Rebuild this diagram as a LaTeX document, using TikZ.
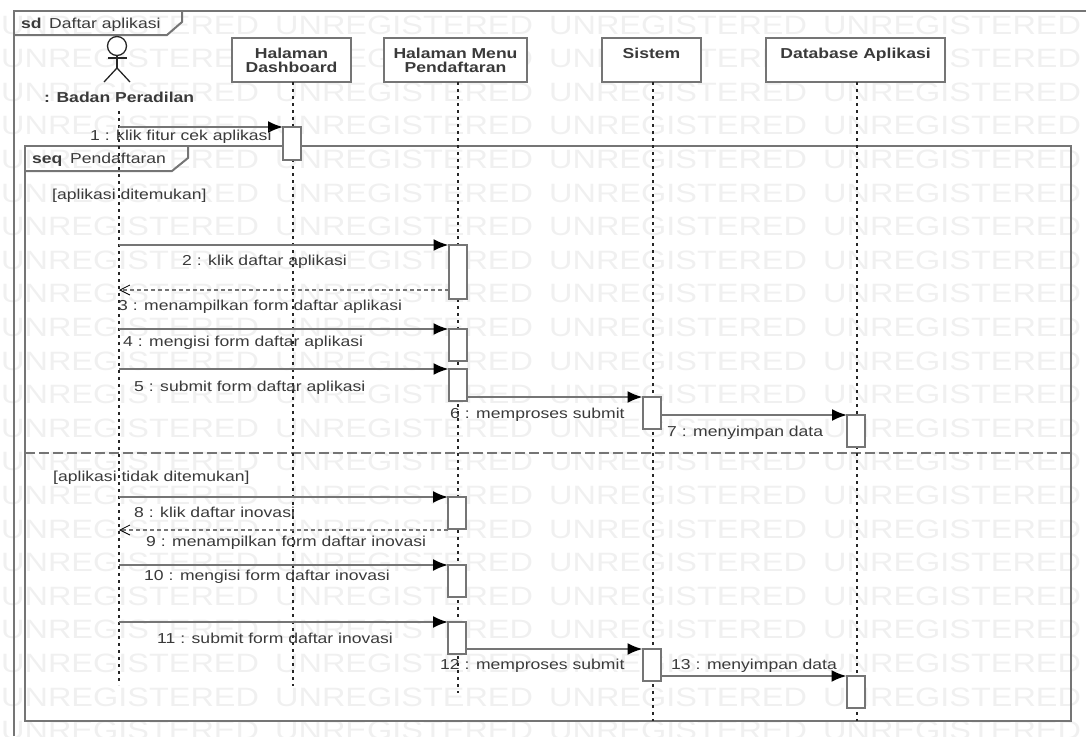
\documentclass[tikz,border=0pt]{standalone}
\usepackage{fontspec}
\setmainfont[FakeStretch=1.22]{Liberation Sans}
\usetikzlibrary{arrows.meta}
\definecolor{linegray}{HTML}{757575}
\definecolor{textgray}{HTML}{3A3A3A}
\definecolor{wmgray}{HTML}{F0F0F0}
\begin{document}
\begin{tikzpicture}[x=1pt, y=-1pt,
        wm/.style={anchor=west, inner sep=0, text=wmgray, font=\fontsize{26.6}{30}\selectfont},
        lbl/.style={anchor=base west, inner sep=0, text=textgray, font=\fontsize{14.4}{15}\selectfont},
        hd/.style={draw=linegray, line width=2pt, fill=white, inner sep=0, outer sep=0, minimum height=44pt,
            align=center, text=textgray, font=\fontsize{14.4}{14}\selectfont\bfseries},
        act/.style={draw=linegray, line width=2pt, fill=white, inner sep=0, outer sep=0, minimum width=18pt, anchor=north},
        frm/.style={draw=linegray, line width=2pt},
        life/.style={draw=black!85, line width=1.3pt, dash pattern=on 3pt off 4pt},
        msg/.style={draw=linegray, line width=2pt, -{Latex[black, length=15pt, width=12pt]}},
        ret/.style={draw=linegray, line width=1.3pt, dash pattern=on 4pt off 3pt, -{Straight Barb[black, length=10pt, width=10pt, line width=.8pt]}}]
    \useasboundingbox (0,0) rectangle (1086,736);

    \foreach \r in {0,...,21}
        \foreach \c in {0,...,3}
            \node[wm] (wm\r-\c) at ({1+274*\c},{25+33.6*\r}) {UNREGISTERED};

    % frames
    \draw[frm] (14,736) -- (14,11) -- (1086,11);
    \draw[frm] (14,35) -- (167,35) -- (182,22) -- (182,11);
    \draw[frm] (25,146) rectangle (1071,721);
    \draw[frm] (25,171) -- (172,171) -- (188,158) -- (188,146);
    \draw[frm, dash pattern=on 10pt off 4pt] (25,453) -- (1071,453);
    \node[lbl] (sd) at (21,28) {\textbf{sd}};
    \node[lbl] (sdname) at (49,28) {Daftar aplikasi};
    \node[lbl] (seq) at (32,163) {\textbf{seq}};
    \node[lbl] (seqname) at (70,163) {Pendaftaran};
    \node[lbl] (g1) at (52,199) {[aplikasi ditemukan]};
    \node[lbl] (g2) at (53,481) {[aplikasi tidak ditemukan]};

    % lifelines
    \coordinate (s0) at (119,111);
    \coordinate (e0) at (119,685);
    \coordinate (e1) at (293,686);
    \coordinate (e2) at (458,693);
    \coordinate (e3) at (653,721);
    \coordinate (e4) at (857,721);

    \node[hd, minimum width=119pt] (dash) at (291.5,60) {Halaman\\Dashboard};
    \node[hd, minimum width=143pt] (menu) at (455.5,60) {Halaman Menu\\Pendaftaran};
    \node[hd, minimum width=99pt] (sistem) at (651.5,60) {Sistem\\~};
    \node[hd, minimum width=179pt] (db) at (855.5,60) {Database Aplikasi\\~};

    \draw[life] (s0) -- (e0);
    \draw[life] (dash.south -| e1) -- (e1);
    \draw[life] (menu.south -| e2) -- (e2);
    \draw[life] (sistem.south -| e3) -- (e3);
    \draw[life] (db.south -| e4) -- (e4);

    % actor
    \node[circle, draw=black!85, line width=1.3pt, fill=white, inner sep=0, minimum size=19pt] (head) at (117,46) {};
    \coordinate (hip) at (117,68);
    \coordinate (armL) at (108,58);
    \coordinate (armR) at (127,58);
    \coordinate (legL) at (104,82);
    \coordinate (legR) at (130,82);
    \draw[black!85, line width=1.3pt] (head.south) -- (hip);
    \draw[black!85, line width=1.3pt] (armL) -- (armR);
    \draw[black!85, line width=1.3pt] (legL) -- (hip) -- (legR);
    \node[lbl, font=\fontsize{14.4}{15}\selectfont\bfseries] (badan) at (44,102) {: Badan Peradilan};

    % activations
    \node[act, minimum height=33pt] (d1) at (292,127) {};
    \node[act, minimum height=54pt] (m2) at (457.5,245) {};
    \node[act, minimum height=32pt] (m4) at (457.5,329) {};
    \node[act, minimum height=32pt] (m5) at (457.5,369) {};
    \node[act, minimum height=32pt] (s6) at (651.5,397) {};
    \node[act, minimum height=32pt] (b7) at (856,415) {};
    \node[act, minimum height=32pt] (m8) at (457,497) {};
    \node[act, minimum height=32pt] (m10) at (457,565) {};
    \node[act, minimum height=32pt] (m11) at (457,622) {};
    \node[act, minimum height=32pt] (s12) at (651.5,649) {};
    \node[act, minimum height=32pt] (b13) at (855.5,676) {};

    % messages
    \coordinate (a1) at (119,127);
    \coordinate (a2) at (119,245);
    \coordinate (a3) at (119,290);
    \coordinate (a4) at (119,329);
    \coordinate (a5) at (119,369);
    \coordinate (a8) at (119,497);
    \coordinate (a9) at (119,530);
    \coordinate (a10) at (119,565);
    \coordinate (a11) at (119,622);

    \draw[msg] (a1) -- (d1.north west);
    \draw[msg] (a2) -- (m2.north west);
    \draw[ret] (m2.west |- a3) -- (a3);
    \draw[msg] (a4) -- (m4.north west);
    \draw[msg] (a5) -- (m5.north west);
    \draw[msg] (m5.east |- s6.north) -- (s6.north west);
    \draw[msg] (s6.east |- b7.north) -- (b7.north west);
    \draw[msg] (a8) -- (m8.north west);
    \draw[ret] (m8.west |- a9) -- (a9);
    \draw[msg] (a10) -- (m10.north west);
    \draw[msg] (a11) -- (m11.north west);
    \draw[msg] (m11.east |- s12.north) -- (s12.north west);
    \draw[msg] (s12.east |- b13.north) -- (b13.north west);

    \node[lbl] (t1) at (90,140) {1 : klik fitur cek aplikasi};
    \node[lbl] (t2) at (182,265) {2 : klik daftar aplikasi};
    \node[lbl] (t3) at (118,310) {3 : menampilkan form daftar aplikasi};
    \node[lbl] (t4) at (123,346) {4 : mengisi form daftar aplikasi};
    \node[lbl] (t5) at (134,391) {5 : submit form daftar aplikasi};
    \node[lbl] (t6) at (450,418) {6 : memproses submit};
    \node[lbl] (t7) at (667,436) {7 : menyimpan data};
    \node[lbl] (t8) at (134,517) {8 : klik daftar inovasi};
    \node[lbl] (t9) at (146,546) {9 : menampilkan form daftar inovasi};
    \node[lbl] (t10) at (144,580) {10 : mengisi form daftar inovasi};
    \node[lbl] (t11) at (157,643) {11 : submit form daftar inovasi};
    \node[lbl] (t12) at (440,669) {12 : memproses submit};
    \node[lbl] (t13) at (671,669) {13 : menyimpan data};
\end{tikzpicture}
\end{document}
